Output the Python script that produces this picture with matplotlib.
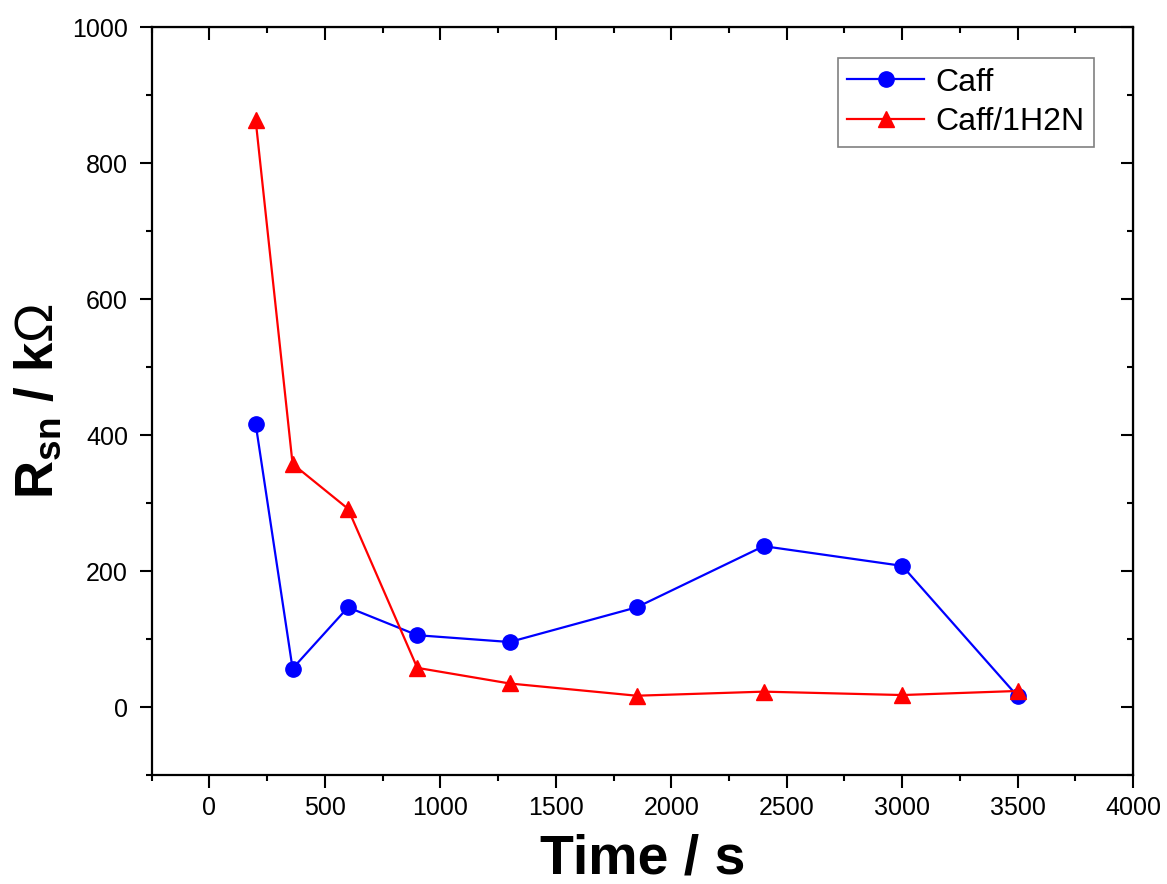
import numpy as np
import matplotlib.pyplot as plt
from matplotlib.ticker import MultipleLocator

plt.rcParams['font.family'] = ['Liberation Sans', 'DejaVu Sans']
plt.rcParams['mathtext.fontset'] = 'custom'
plt.rcParams['mathtext.rm'] = 'Liberation Sans'
plt.rcParams['mathtext.bf'] = 'Liberation Sans:bold'

# tempo (s)
t = [200, 360, 600, 900, 1300, 1850, 2400, 3000, 3500]
# resistencias (kOhm)
caff = [417, 57, 147, 106, 96, 147, 237, 208, 16]
caff_1h2n = [864, 358, 292, 58, 35, 17, 23, 18, 24]

fig = plt.figure(figsize=(11.67, 8.84), dpi=100)
ax = fig.add_axes([0.130, 0.123, 0.841, 0.846])

ax.plot(t, caff, '-o', color='blue', lw=1.6, ms=11, label='Caff')
ax.plot(t, caff_1h2n, '-^', color='red', lw=1.6, ms=12, label='Caff/1H2N')

ax.set_xlim(-250, 4000)
ax.set_ylim(-100, 1000)
ax.xaxis.set_major_locator(MultipleLocator(500))
ax.xaxis.set_minor_locator(MultipleLocator(250))
ax.yaxis.set_major_locator(MultipleLocator(200))
ax.yaxis.set_minor_locator(MultipleLocator(100))

for s in ax.spines.values():
    s.set_linewidth(1.6)

ax.tick_params(which='both', direction='out', labelsize=18, width=1.5)
ax.tick_params(which='major', length=9)
ax.tick_params(which='minor', length=4.5)
ax.tick_params(axis='x', pad=6)
ax.tick_params(axis='y', pad=8)

# ticks espelhados para dentro (topo e direita)
axt = ax.secondary_xaxis('top')
axt.xaxis.set_major_locator(MultipleLocator(500))
axt.xaxis.set_minor_locator(MultipleLocator(250))
axt.tick_params(which='both', direction='in', labeltop=False, width=1.5)
axt.tick_params(which='major', length=9)
axt.tick_params(which='minor', length=4.5)
axr = ax.secondary_yaxis('right')
axr.yaxis.set_major_locator(MultipleLocator(200))
axr.yaxis.set_minor_locator(MultipleLocator(100))
axr.tick_params(which='both', direction='in', labelright=False, width=1.5)
axr.tick_params(which='major', length=9)
axr.tick_params(which='minor', length=4.5)

ax.set_xlabel('Time / s', fontsize=40, fontweight='bold', labelpad=10)
ax.set_ylabel(r'R$_{\mathbf{sn}}$ / k$\mathrm{\Omega}$', fontsize=38, fontweight='bold', labelpad=6)

leg = ax.legend(loc='upper right', bbox_to_anchor=(0.960, 0.959), fontsize=23,
                fancybox=False, edgecolor='gray', framealpha=1,
                handlelength=2.4, handletextpad=0.35, borderpad=0.3,
                labelspacing=0.3, borderaxespad=0)
leg.get_frame().set_linewidth(1.2)

fig.savefig('out.png', dpi=100)
